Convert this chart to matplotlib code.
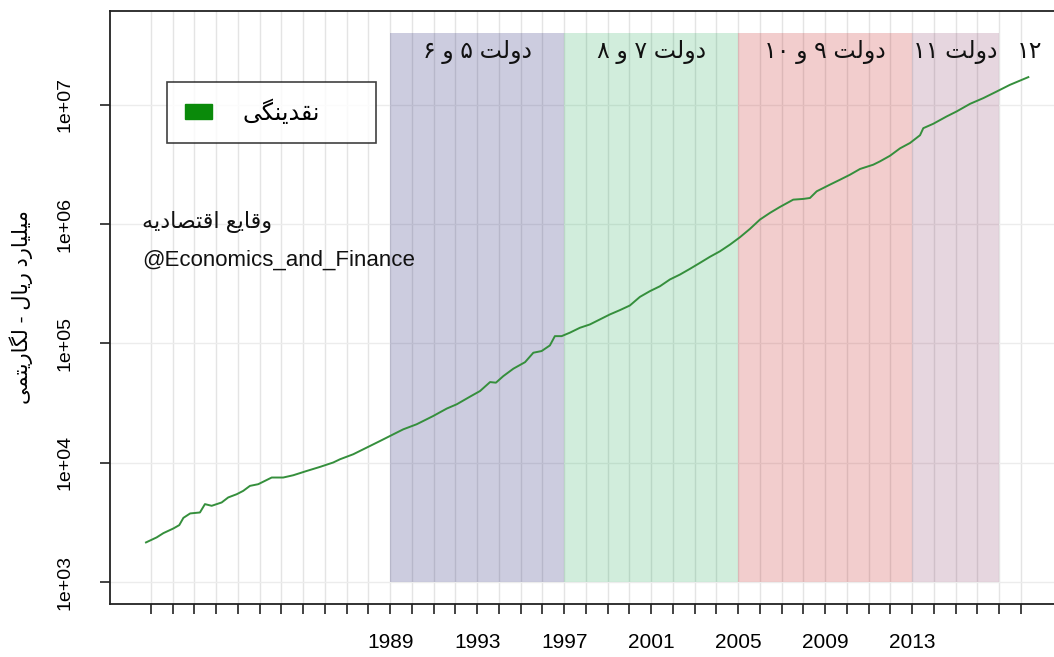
import numpy as np
import matplotlib
matplotlib.use("Agg")
import matplotlib.pyplot as plt
from matplotlib.patches import Patch

# ---------------- data ----------------
years = [1977.77, 1978.26, 1978.57, 1979.03, 1979.30, 1979.49, 1979.80, 1980.25, 1980.48, 1980.79,
         1981.25, 1981.55, 1981.94, 1982.24, 1982.55, 1982.93, 1983.24, 1983.55, 1984.08, 1984.54,
         1985.16, 1985.77, 1986.38, 1986.69, 1987.30, 1987.92, 1988.53, 1989.14, 1989.60, 1990.21,
         1990.52, 1990.98, 1991.60, 1992.06, 1992.67, 1993.13, 1993.59, 1993.86, 1994.20, 1994.66,
         1995.20, 1995.58, 1995.96, 1996.34, 1996.57, 1996.88, 1997.26, 1997.72, 1998.18, 1998.64,
         1999.10, 1999.56, 2000.02, 2000.48, 2000.94, 2001.40, 2001.86, 2002.32, 2002.78, 2003.24,
         2003.70, 2004.16, 2004.62, 2005.08, 2005.54, 2006.00, 2006.46, 2006.92, 2007.53, 2007.99,
         2008.30, 2008.61, 2009.22, 2009.68, 2010.14, 2010.60, 2011.21, 2011.52, 2011.98, 2012.44,
         2012.90, 2013.36, 2013.51, 2013.97, 2014.58, 2015.04, 2015.66, 2016.27, 2016.88, 2017.49,
         2018.34]
liquidity = [2148, 2366, 2570, 2812, 3000, 3451, 3758, 3828, 4498, 4355,
             4645, 5117, 5445, 5808, 6397, 6607, 7047, 7516, 7516, 7852,
             8531, 9226, 10046, 10690, 11776, 13397, 15205, 17298, 19055, 20989,
             22387, 24660, 28445, 30903, 35810, 39902, 47424, 46881, 53211, 61376,
             69663, 83560, 86298, 96161, 115080, 115080, 123027, 135207, 144212, 158855,
             174985, 190108, 207970, 245471, 274157, 301300, 343558, 377572, 421697, 473151,
             532108, 591562, 672977, 776247, 912011, 1091440, 1241652, 1393157, 1603245, 1625549,
             1655769, 1883649, 2142891, 2355049, 2594179, 2897344, 3147748, 3357376, 3741106, 4315190,
             4786301, 5559043, 6367955, 6934258, 7979946, 8790225, 10185914, 11376272, 12912192, 14689262,
             17060818]

gov_starts = [1989, 1997, 2005, 2013]
gov_ends = [1997, 2005, 2013, 2017]
gov_labels = ["دولت ۵ و ۶", "دولت ۷ و ۸", "دولت ۹ و ۱۰", "دولت ۱۱"]
last_label = "۱۲"
last_label_year = 2018.4
tick_years = list(range(1978, 2019))
labeled_years = [1989, 1993, 1997, 2001, 2005, 2009, 2013]
y_ticks = [1e3, 1e4, 1e5, 1e6, 1e7]
y_tick_labels = ["1e+03", "1e+04", "1e+05", "1e+06", "1e+07"]
series_name = "نقدینگی"
ylabel_text = "میلیارد ریال - لگاریتمی"
source_fa = "وقایع اقتصادیه"
source_en = "@Economics_and_Finance"

# -------------- simple Persian shaping (visual order) ---------------
FORMS = {
    '\u0627': ('\uFE8D', '\uFE8E', None, None),
    '\u0628': ('\uFE8F', '\uFE90', '\uFE91', '\uFE92'),
    '\u062A': ('\uFE95', '\uFE96', '\uFE97', '\uFE98'),
    '\u062F': ('\uFEA9', '\uFEAA', None, None),
    '\u0631': ('\uFEAD', '\uFEAE', None, None),
    '\u0635': ('\uFEB9', '\uFEBA', '\uFEBB', '\uFEBC'),
    '\u0639': ('\uFEC9', '\uFECA', '\uFECB', '\uFECC'),
    '\u0642': ('\uFED5', '\uFED6', '\uFED7', '\uFED8'),
    '\u0644': ('\uFEDD', '\uFEDE', '\uFEDF', '\uFEE0'),
    '\u0645': ('\uFEE1', '\uFEE2', '\uFEE3', '\uFEE4'),
    '\u0646': ('\uFEE5', '\uFEE6', '\uFEE7', '\uFEE8'),
    '\u0647': ('\uFEE9', '\uFEEA', '\uFEEB', '\uFEEC'),
    '\u0648': ('\uFEED', '\uFEEE', None, None),
    '\u06CC': ('\uFBFC', '\uFBFD', '\uFBFE', '\uFBFF'),
    '\u06AF': ('\uFB92', '\uFB93', '\uFB94', '\uFB95'),
}


def shape_word(w):
    out = []
    for i, c in enumerate(w):
        if c not in FORMS:
            out.append(c)
            continue
        f = FORMS[c]
        p = i > 0 and w[i - 1] in FORMS and FORMS[w[i - 1]][2] is not None
        n = i < len(w) - 1 and w[i + 1] in FORMS and f[2] is not None
        if p and n:
            out.append(f[3])
        elif p:
            out.append(f[1])
        elif n:
            out.append(f[2])
        else:
            out.append(f[0])
    return ''.join(reversed(out))


def fa(s):
    toks = s.split(' ')
    res = []
    for t in reversed(toks):
        if any(ch in FORMS for ch in t):
            res.append(shape_word(t))
        else:
            res.append(t)
    return ' '.join(res)


plt.rcParams['font.family'] = ['Liberation Sans', 'DejaVu Sans']

W, H = 1054, 657
fig = plt.figure(figsize=(W / 100, H / 100), dpi=100)
left_px, right_px, top_px, bot_px = 110, 1054, 11, 604
aw, ah = right_px - left_px, bot_px - top_px
ax = fig.add_axes([left_px / W, 1 - bot_px / H, aw / W, ah / H])

ax.set_yscale('log')
y_lo, y_hi = 1e3, 4e7
span = np.log10(y_hi) - np.log10(y_lo)
ax.set_ylim(10 ** (np.log10(y_lo) - 0.04 * span), 10 ** (np.log10(y_hi) + 0.04 * span))
ax.set_xlim(1976.115, 2019.52)

# grid
for yr in tick_years:
    ax.axvline(yr, color='#e4e4e4', lw=1.0, zorder=0)
for yv in y_ticks:
    ax.axhline(yv, color='#ececec', lw=1.0, zorder=0)

# government shading
shade_colors = [('#1a1a6e', 0.22), ('#00a040', 0.18), ('#c41c1c', 0.22), ('#84325f', 0.20)]
label_y = 10 ** 7.444
for s, e, lab, (c, a) in zip(gov_starts, gov_ends, gov_labels, shade_colors):
    ax.fill_between([s, e], y_lo, y_hi, color=c, alpha=a, lw=0, zorder=1)
    ax.text((s + e) / 2, label_y, fa(lab), ha='center', va='center', fontsize=17,
            color='#111111', zorder=4)
ax.text(last_label_year, label_y, last_label, ha='center', va='center', fontsize=17,
        color='#111111', zorder=4)

ax.plot(years, liquidity, color='#358f3c', lw=1.4, zorder=3)

# axes styling
for sp in ['left', 'bottom', 'top']:
    ax.spines[sp].set_color('#222222')
    ax.spines[sp].set_linewidth(1.3)
ax.spines['right'].set_visible(False)

ax.set_xticks(tick_years)
ax.set_xticklabels([str(y) if y in labeled_years else '' for y in tick_years], fontsize=15)
ax.tick_params(axis='x', length=7, width=1.2, pad=14, color='#222222')
ax.xaxis.set_minor_locator(matplotlib.ticker.NullLocator())

ax.set_yticks(y_ticks)
ax.set_yticklabels(y_tick_labels, fontsize=14, rotation=90, va='center')
ax.yaxis.set_minor_locator(matplotlib.ticker.NullLocator())
ax.tick_params(axis='y', length=7, width=1.2, pad=19, color='#222222')

ax.set_ylabel(fa(ylabel_text), fontsize=15)
ax.yaxis.set_label_coords((33 - left_px) / aw, 0.5)

# legend
handles = [Patch(facecolor='#0a8a0a', edgecolor='#0a8a0a', label=fa(series_name))]
lx0 = (167 - left_px) / aw
ly1 = 1 - (82 - top_px) / ah
ly0 = 1 - (143 - top_px) / ah
lw_ = (376 - 167) / aw
leg = ax.legend(handles=handles, loc='upper left', mode='expand',
                bbox_to_anchor=(lx0, ly0, lw_, ly1 - ly0),
                borderaxespad=0, frameon=True, fancybox=False, fontsize=17,
                handlelength=1.15, handleheight=0.6, handletextpad=1.3, borderpad=0.75)
leg.get_frame().set_edgecolor('#111111')
leg.get_frame().set_linewidth(1.2)
leg.set_zorder(5)

# source text
ax.text((142 - left_px) / aw, 1 - (222 - top_px) / ah, fa(source_fa),
        transform=ax.transAxes, ha='left', va='center', fontsize=16, color='#111111', zorder=5)
ax.text((142 - left_px) / aw, 1 - (260 - top_px) / ah, source_en,
        transform=ax.transAxes, ha='left', va='center', fontsize=16, color='#111111', zorder=5)

fig.savefig('out.png', dpi=100)
